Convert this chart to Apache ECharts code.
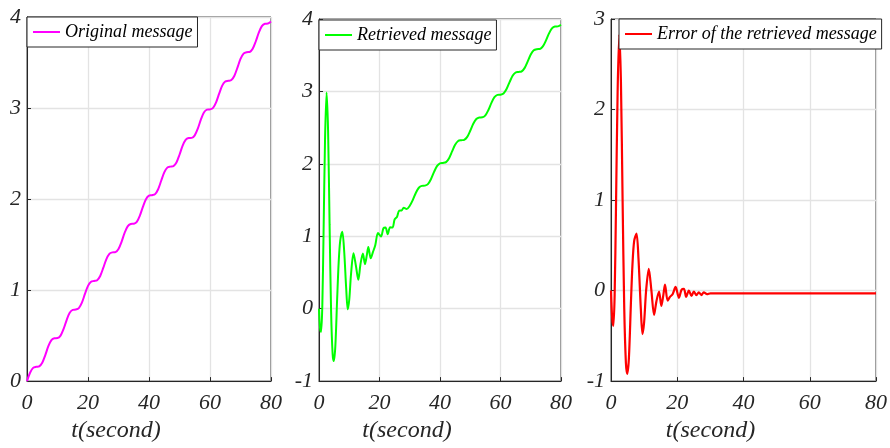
<!DOCTYPE html>
<html>
<head>
<meta charset="UTF-8">
<title>message retrieval</title>
<script src="https://cdn.jsdelivr.net/npm/echarts@6/dist/echarts.min.js"></script>
<style>
html, body { margin: 0; padding: 0; background: #fff; }
#container { width: 890px; height: 448px; }
</style>
</head>
<body>
<div id="container"></div>
<script type="text/javascript">
// original message, sampled every second (t = 0..80)
var origT = [];
for (var i = 0; i <= 80; i++) origT.push(i);
var origV = [0, 0.092, 0.145, 0.157, 0.162, 0.202, 0.286, 0.383, 0.449, 0.471,
	0.473, 0.500, 0.573, 0.671, 0.750, 0.783, 0.786, 0.802, 0.862, 0.958,
	1.046, 1.092, 1.100, 1.108, 1.155, 1.243, 1.338, 1.398, 1.414, 1.417,
	1.451, 1.530, 1.628, 1.700, 1.726, 1.729, 1.750, 1.818, 1.915, 1.998,
	2.037, 2.042, 2.054, 2.108, 2.201, 2.293, 2.345, 2.356, 2.362, 2.402,
	2.487, 2.584, 2.649, 2.670, 2.672, 2.700, 2.774, 2.872, 2.950, 2.982,
	2.985, 3.002, 3.063, 3.158, 3.246, 3.291, 3.299, 3.307, 3.355, 3.444,
	3.539, 3.598, 3.613, 3.616, 3.651, 3.731, 3.828, 3.900, 3.926, 3.928, 3.950];

// retrieved message: fine steps during the transient, then one per second
var retT = [0, 0.35, 0.7, 1.1, 1.5, 2.0, 2.5, 3.0, 3.5, 4.0, 4.5, 4.9, 5.4, 6.0, 6.5,
	7.0, 7.7, 8.3, 9.0, 9.5, 10.0, 10.6, 11.4, 12.2, 13.0, 13.7, 14.5, 15.2, 15.8,
	16.3, 17.1, 17.8, 18.6, 19.5, 20.5, 21.3, 22.0, 22.7, 23.5, 24.3, 25.0, 25.8,
	26.5, 27.3, 28.0, 29.0, 30,
	31, 32, 33, 34, 35, 36, 37, 38, 39, 40, 41, 42, 43, 44, 45, 46, 47, 48, 49, 50,
	51, 52, 53, 54, 55, 56, 57, 58, 59, 60, 61, 62, 63, 64, 65, 66, 67, 68, 69, 70,
	71, 72, 73, 74, 75, 76, 77, 78, 79, 80];
var retV = [0, -0.265, -0.32, 0.05, 1.025, 2.345, 2.985, 2.457, 1.157, -0.038, -0.624,
	-0.724, -0.519, 0.136, 0.636, 0.933, 1.064, 0.81, 0.271, -0.009, 0.123, 0.484,
	0.764, 0.593, 0.401, 0.611, 0.762, 0.615, 0.736, 0.853, 0.696, 0.778, 0.877,
	1.045, 0.995, 1.11, 1.12, 1.027, 1.125, 1.12, 1.233, 1.27, 1.353, 1.355, 1.394,
	1.377, 1.421,
	1.500, 1.598, 1.670, 1.696, 1.699, 1.720, 1.788, 1.885, 1.968, 2.007,
	2.012, 2.024, 2.078, 2.171, 2.263, 2.315, 2.326, 2.332, 2.372, 2.457,
	2.554, 2.619, 2.640, 2.642, 2.670, 2.744, 2.842, 2.920, 2.952, 2.955,
	2.972, 3.033, 3.128, 3.216, 3.261, 3.269, 3.277, 3.325, 3.414, 3.509,
	3.568, 3.583, 3.586, 3.621, 3.701, 3.798, 3.870, 3.896, 3.898, 3.920];

// error of the retrieved message
var errT = [0, 0.35, 0.7, 1.1, 1.5, 2.0, 2.5, 3.0, 3.5, 4.0, 4.5, 4.9, 5.4, 6.0, 6.5,
	7.0, 7.7, 8.3, 9.0, 9.5, 10.0, 10.6, 11.4, 12.2, 13.0, 13.7, 14.5, 15.2, 15.8,
	16.3, 17.1, 17.8, 18.6, 19.5, 20.5, 21.3, 22.0, 22.7, 23.5, 24.3, 25.0, 25.8,
	26.5, 27.3, 28.0, 29.0, 30, 40, 50, 60, 70, 80];
var errV = [0, -0.30, -0.39, -0.05, 0.9, 2.2, 2.83, 2.3, 1.0, -0.2, -0.8, -0.92, -0.75,
	-0.15, 0.3, 0.55, 0.63, 0.35, -0.2, -0.48, -0.35, 0.0, 0.24, 0.0, -0.27, -0.12,
	-0.01, -0.17, -0.05, 0.065, -0.11, -0.07, -0.04, 0.04, -0.08, 0.01, 0.02, -0.07,
	0.0, -0.06, -0.01, -0.05, -0.02, -0.05, -0.02, -0.04, -0.03, -0.03, -0.03, -0.03,
	-0.03, -0.03];

var xTicks = [0, 20, 40, 60, 80];
var names = ['Original message', 'Retrieved message', 'Error of the retrieved message'];
var colors = ['#ff00ff', '#00ff00', '#ff0000'];

function pairs(t, v) {
	var out = [];
	for (var k = 0; k < t.length; k++) out.push([t[k], v[k]]);
	return out;
}

var serif = 'Liberation Serif';
var ink = '#262626';

var grids = [
	{ left: 27, top: 17, width: 244, height: 367 },
	{ left: 319, top: 19, width: 242, height: 368 },
	{ left: 611, top: 19, width: 266, height: 369 }
];
var yRange = [[0, 4], [-1, 4], [-1, 3]];

var xAxes = [], yAxes = [], legends = [];
for (var g = 0; g < 3; g++) {
	grids[g].show = true;
	grids[g].borderColor = ink;
	grids[g].borderWidth = 1;
	grids[g].backgroundColor = '#fff';
	xAxes.push({
		gridIndex: g, type: 'value', min: xTicks[0], max: xTicks[xTicks.length - 1], interval: 20,
		name: 't(second)', nameLocation: 'middle', nameGap: 31,
		nameTextStyle: { fontFamily: serif, fontStyle: 'italic', fontSize: 24, color: ink, padding: [0, 66, 0, 0] },
		axisLine: { show: true, onZero: false, lineStyle: { color: ink, width: 1 } },
		axisTick: { show: true, inside: true, length: 4, lineStyle: { color: ink } },
		axisLabel: { fontFamily: serif, fontStyle: 'italic', fontSize: 22, color: ink, margin: 11 },
		splitLine: { show: true, lineStyle: { color: '#e3e3e3', width: 1.3 } }
	});
	yAxes.push({
		gridIndex: g, type: 'value', min: yRange[g][0], max: yRange[g][1], interval: 1,
		axisLine: { show: true, onZero: false, lineStyle: { color: ink, width: 1 } },
		axisTick: { show: true, inside: true, length: 4, lineStyle: { color: ink } },
		axisLabel: { fontFamily: serif, fontStyle: 'italic', fontSize: 22, color: ink, margin: 6 },
		splitLine: { show: true, lineStyle: { color: '#e3e3e3', width: 1.3 } }
	});
}

legends = [
	{ data: [names[0]], left: 27, top: 17 },
	{ data: [names[1]], left: 319, top: 20 },
	{ data: [names[2]], left: 619, top: 19 }
].map(function (l) {
	l.icon = 'rect';
	l.itemWidth = 27;
	l.itemHeight = 2;
	l.padding = [6, 5, 6, 6];
	l.backgroundColor = '#fff';
	l.borderColor = ink;
	l.borderWidth = 1;
	l.borderRadius = 0;
	l.textStyle = { fontFamily: serif, fontStyle: 'italic', fontSize: 18, color: '#000' };
	return l;
});

var dom = document.getElementById('container');
var myChart = echarts.init(dom, null, { renderer: 'canvas' });
var option = {
	animation: false,
	backgroundColor: '#fff',
	grid: grids,
	xAxis: xAxes,
	yAxis: yAxes,
	legend: legends,
	series: [
		{ name: names[0], type: 'line', xAxisIndex: 0, yAxisIndex: 0, data: pairs(origT, origV),
		  showSymbol: false, symbol: 'none', smooth: 0.3, lineStyle: { color: colors[0], width: 2 }, itemStyle: { color: colors[0] } },
		{ name: names[1], type: 'line', xAxisIndex: 1, yAxisIndex: 1, data: pairs(retT, retV),
		  showSymbol: false, symbol: 'none', smooth: 0.3, lineStyle: { color: colors[1], width: 2 }, itemStyle: { color: colors[1] } },
		{ name: names[2], type: 'line', xAxisIndex: 2, yAxisIndex: 2, data: pairs(errT, errV),
		  showSymbol: false, symbol: 'none', smooth: 0.3, lineStyle: { color: colors[2], width: 2.2 }, itemStyle: { color: colors[2] } }
	]
};
myChart.setOption(option);
</script>
</body>
</html>
